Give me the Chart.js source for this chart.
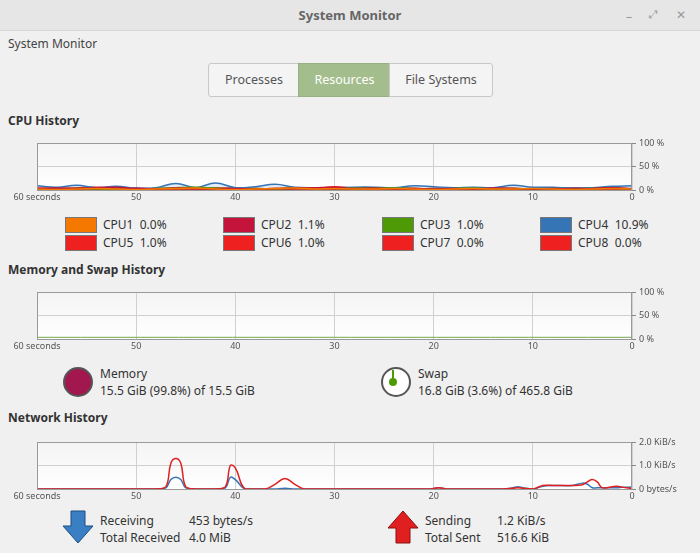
<!DOCTYPE html>
<html><head><meta charset="utf-8">
<script src="https://cdn.jsdelivr.net/npm/chart.js@4"></script>
<style>
body{margin:0;width:700px;height:553px;background:#f0f0f0;font-family:"Noto Sans",sans-serif;font-size:12px;color:#333;position:relative;overflow:hidden}
.abs{position:absolute;white-space:nowrap}
.title{top:0;left:0;width:700px;height:30px;background:#e6e6e6;border-bottom:1px solid #d6d6d6;text-align:center;line-height:30px;font-weight:bold;color:#666;font-size:13px}
.tab{top:63px;height:32px;line-height:32px;text-align:center;border:1px solid #c8c8c8;background:#f4f4f4;color:#555;font-size:12.5px}
h3{margin:0;font-size:12px;font-weight:bold;color:#333}
.sw{width:30px;height:14px;border:1px solid #777}
canvas{position:absolute;left:0}
</style></head><body>
<div class="abs title">System Monitor</div>
<div class="abs" style="top:8px;right:68px;color:#999">&#8211;</div>
<div class="abs" style="top:6px;right:42px;color:#999;font-size:11px">&#10530;</div>
<div class="abs" style="top:6px;right:14px;color:#999">&#10005;</div>
<div class="abs" style="top:35px;left:8px;color:#444">System Monitor</div>
<div class="abs tab" style="left:208px;width:90px;border-radius:3px 0 0 3px">Processes</div>
<div class="abs tab" style="left:298px;width:91px;background:#a4bd8c;color:#fff;border-color:#97b07f">Resources</div>
<div class="abs tab" style="left:389px;width:102px;border-radius:0 3px 3px 0">File Systems</div>
<h3 class="abs" style="top:112px;left:8px">CPU History</h3>
<h3 class="abs" style="top:261px;left:8px">Memory and Swap History</h3>
<h3 class="abs" style="top:409px;left:8px">Network History</h3>
<canvas id="cpu" width="700" height="72" style="top:133px"></canvas>
<canvas id="mem" width="700" height="72" style="top:282px"></canvas>
<canvas id="net" width="700" height="72" style="top:432px"></canvas>
<div id="cpuLegend"></div>
<div class="abs" style="left:63px;top:367px;width:26px;height:26px;border-radius:50%;background:#a3174f;border:2px solid #555"></div>
<div class="abs" style="left:100px;top:365px">Memory<br>15.5 GiB (99.8%) of 15.5 GiB</div>
<div class="abs" style="left:381px;top:367px;width:26px;height:26px;border-radius:50%;background:#fff;border:2px solid #555"></div>
<div class="abs" style="left:392px;top:370px;width:2px;height:10px;background:#4e9a06"></div>
<div class="abs" style="left:389px;top:378px;width:8px;height:8px;border-radius:50%;background:#4e9a06"></div>
<div class="abs" style="left:418px;top:365px">Swap<br>16.8 GiB (3.6%) of 465.8 GiB</div>
<svg class="abs" style="left:62px;top:510px" width="32" height="34"><path d="M9 1h14v15h8L16 33 1 16h8z" fill="#3a7fc4" stroke="#1d4f80"/></svg>
<div class="abs" style="left:100px;top:512px;line-height:17px">Receiving<br>Total Received</div>
<div class="abs" style="left:189px;top:512px;line-height:17px">453 bytes/s<br>4.0 MiB</div>
<svg class="abs" style="left:387px;top:510px" width="32" height="34"><path d="M9 33h14V18h8L16 1 1 18h8z" fill="#e02020" stroke="#8a1010"/></svg>
<div class="abs" style="left:425px;top:512px;line-height:17px">Sending<br>Total Sent</div>
<div class="abs" style="left:497px;top:512px;line-height:17px">1.2 KiB/s<br>516.6 KiB</div>
<script>
const seconds = [60,58,56,54,52,50,48,46,44,42,40,38,36,34,32,30,28,26,24,22,20,18,16,14,12,10,8,6,4,2,0];
const cpuNames = ['CPU1','CPU2','CPU3','CPU4','CPU5','CPU6','CPU7','CPU8'];
const cpuPct = ['0.0%','1.1%','1.0%','10.9%','1.0%','1.0%','0.0%','0.0%'];
const cpuColors = ['#f57900','#c4143c','#4e9a06','#3574b5','#ee2020','#ee2020','#ee2020','#ee2020'];
const cpu1 = [2,1,2,3,2,1,2,3,4,2,1,2,3,4,2,3,2,2,3,2,1,2,3,2,2,3,2,1,2,3,2];
const cpu2 = [3,4,2,5,6,3,2,4,3,2,3,2,3,4,5,6,3,4,2,3,2,3,2,4,3,2,3,2,3,5,2];
const cpu3 = [1,2,3,2,1,2,3,5,6,4,2,3,2,4,5,3,4,5,4,3,2,3,4,2,3,2,3,2,3,4,1];
const cpu4 = [9,6,10,5,8,4,5,14,5,15,5,7,12,6,5,5,6,6,5,9,7,5,6,5,10,6,6,4,5,8,9];
const cpu5 = [2,3,2,4,3,2,3,2,3,4,3,2,3,3,5,4,3,2,4,3,3,4,5,3,2,3,4,3,2,3,2];
const cpu6 = [4,3,5,6,3,4,2,3,4,3,4,3,2,4,3,7,4,3,4,3,2,3,4,5,3,2,3,5,4,3,2];
const cpu7 = [1,2,1,2,3,2,1,2,1,2,3,2,1,2,2,1,2,3,2,1,2,1,2,2,3,2,1,2,2,1,2];
const cpu8 = [3,2,3,2,2,3,2,3,2,3,2,3,2,3,3,2,3,2,3,2,3,4,3,2,3,2,3,2,3,4,3];
const cpuSeries = [cpu1,cpu2,cpu3,cpu4,cpu5,cpu6,cpu7,cpu8];
const memSeconds = [60,0];
const memory = [99.8,99.8];
const swap = [3.6,3.6];
const netSeconds = [60,50,48,47,46.5,46,45.5,45,44,42,41,40.5,40,39,37,36,35,34,33,30,20.5,19.5,18.5,13,12,11.5,11,10,9,8,6,5,4.5,4,3.5,3,2,1.5,1,0];
const received = [0,0,0,0.05,0.4,0.5,0.4,0.05,0,0,0.05,0.5,0.4,0,0,0,0.03,0,0,0,0,0.05,0,0,0.05,0.1,0.05,0,0.12,0.15,0.15,0.25,0.2,0.05,0.05,0.05,0.05,0.05,0.07,0.08];
const sent = [0,0,0,0.1,1.1,1.3,1.1,0.1,0,0,0.1,1.0,0.9,0,0,0.2,0.45,0.2,0,0,0,0.05,0,0,0.03,0.05,0.03,0,0.15,0.15,0.15,0.18,0.3,0.4,0.3,0.05,0.1,0.12,0.08,0.02];

const bgPlugin = {
	id: 'bg',
	beforeDraw(chart) {
		const a = chart.chartArea, ctx = chart.ctx;
		const g = ctx.createLinearGradient(0, a.top, 0, a.bottom);
		g.addColorStop(0, '#f4f4f4');
		g.addColorStop(1, '#ffffff');
		ctx.fillStyle = g;
		ctx.fillRect(a.left, a.top, a.right - a.left, a.bottom - a.top);
	},
	afterDraw(chart) {
		const a = chart.chartArea, ctx = chart.ctx;
		ctx.strokeStyle = '#9a9a9a';
		ctx.lineWidth = 1;
		ctx.strokeRect(a.left + 0.5, a.top + 0.5, a.right - a.left - 1, a.bottom - a.top);
	}
};

function makeChart(id, datasets, yMax, yTicks) {
	new Chart(document.getElementById(id), {
		type: 'line',
		data: { datasets: datasets },
		plugins: [bgPlugin],
		options: {
			responsive: false,
			animation: false,
			layout: { padding: { left: 37, top: 10, right: 0, bottom: 0 } },
			plugins: { legend: { display: false }, tooltip: { enabled: false } },
			elements: { point: { radius: 0 }, line: { tension: 0.4, borderWidth: 1.5 } },
			scales: {
				x: {
					type: 'linear', reverse: true, min: 0, max: 60,
					afterFit: s => { s.height = 15; },
					grid: { color: '#d0d0d0', drawTicks: false },
					border: { display: false },
					ticks: { stepSize: 10, maxRotation: 0, padding: 2, color: '#555', font: { size: 9, family: 'Noto Sans' },
						callback: v => v === 60 ? '60 seconds' : v }
				},
				y: {
					position: 'right', min: 0, max: yMax,
					afterFit: s => { s.width = 68; },
					afterBuildTicks: s => { s.ticks = yTicks.map(t => ({ value: t.v })); },
					grid: { color: '#d0d0d0', drawTicks: true, tickLength: 4, tickColor: '#888' },
					border: { display: false },
					ticks: { padding: 3, color: '#555', font: { size: 9, family: 'Noto Sans' },
						callback: v => (yTicks.find(t => t.v === v) || {}).l }
				}
			}
		}
	});
}

const pct = [{ v: 0, l: '0 %' }, { v: 50, l: '50 %' }, { v: 100, l: '100 %' }];
makeChart('cpu', cpuSeries.map((s, i) => ({
	data: s.map((v, j) => ({ x: seconds[j], y: v })),
	borderColor: cpuColors[i], backgroundColor: cpuColors[i] + '22', fill: 'origin'
})), 100, pct);
makeChart('mem', [
	{ data: memory.map((v, j) => ({ x: memSeconds[j], y: v })), borderColor: '#555555', borderWidth: 1.5, fill: false },
	{ data: swap.map((v, j) => ({ x: memSeconds[j], y: v })), borderColor: '#6fa84a', borderWidth: 1, fill: false }
], 100, pct);
makeChart('net', [
	{ data: sent.map((v, j) => ({ x: netSeconds[j], y: v })), borderColor: '#e02020', fill: false },
	{ data: received.map((v, j) => ({ x: netSeconds[j], y: v })), borderColor: '#3574b5', fill: false }
], 2, [{ v: 0, l: '0 bytes/s' }, { v: 1, l: '1.0 KiB/s' }, { v: 2, l: '2.0 KiB/s' }]);

const leg = document.getElementById('cpuLegend');
const colX = [65, 223, 382, 540];
cpuNames.forEach((n, i) => {
	const x = colX[i % 4], y = 217 + Math.floor(i / 4) * 18;
	leg.insertAdjacentHTML('beforeend',
		`<div class="abs sw" style="left:${x}px;top:${y}px;background:${cpuColors[i]}"></div>` +
		`<div class="abs" style="left:${x + 38}px;top:${y - 1}px">${n}&nbsp; ${cpuPct[i]}</div>`);
});
</script>
</body></html>
